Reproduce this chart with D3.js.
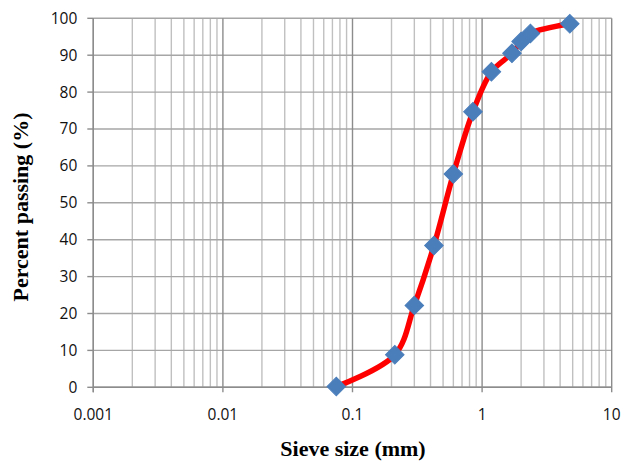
<!DOCTYPE html>
<html><head><meta charset="utf-8">
<script src="https://cdn.jsdelivr.net/npm/d3@7"></script>
<style>body{margin:0;background:#fff}svg{display:block}</style>
</head><body>
<svg id="c" width="623" height="463"></svg>
<script>
const sieveSizes = [0.075, 0.212, 0.3, 0.425, 0.6, 0.85, 1.18, 1.7, 2.0, 2.36, 4.75];
const percentPassing = [0.2, 8.8, 22.2, 38.4, 57.8, 74.7, 85.5, 90.5, 93.7, 95.9, 98.5];
const xTickLabels = ["0.001", "0.01", "0.1", "1", "10"];
const yTickLabels = [0, 10, 20, 30, 40, 50, 60, 70, 80, 90, 100];

const svg = d3.select("#c");
const L = 93.3, R = 611.7, T = 18.3, B = 387.3;
const x = d3.scaleLog().domain([0.001, 10]).range([L, R]);
const y = d3.scaleLinear().domain([0, 100]).range([B, T]);

// minor vertical grid
const minor = [];
for (let e = -3; e < 1; e++) for (let m = 2; m <= 9; m++) minor.push(m * Math.pow(10, e));
svg.append("g").selectAll("line").data(minor).join("line")
  .attr("x1", d => x(d)).attr("x2", d => x(d)).attr("y1", T).attr("y2", B)
  .attr("stroke", "#c0c0c0").attr("stroke-width", 1.4);
// horizontal grid
svg.append("g").selectAll("line").data(yTickLabels).join("line")
  .attr("x1", L).attr("x2", R).attr("y1", d => y(d)).attr("y2", d => y(d))
  .attr("stroke", "#a6a6a6").attr("stroke-width", 1.4);
// major vertical grid
svg.append("g").selectAll("line").data(xTickLabels.map(Number)).join("line")
  .attr("x1", d => x(d)).attr("x2", d => x(d)).attr("y1", T).attr("y2", B + 5)
  .attr("stroke", "#8c8c8c").attr("stroke-width", 1.4);
// axes lines
svg.append("line").attr("x1", L).attr("x2", L).attr("y1", T).attr("y2", B + 5).attr("stroke", "#8c8c8c").attr("stroke-width", 1.4);
svg.append("line").attr("x1", L).attr("x2", R).attr("y1", B).attr("y2", B).attr("stroke", "#8c8c8c").attr("stroke-width", 1.4);
// y ticks
svg.append("g").selectAll("line").data(yTickLabels).join("line")
  .attr("x1", L - 6).attr("x2", L).attr("y1", d => y(d)).attr("y2", d => y(d))
  .attr("stroke", "#8c8c8c").attr("stroke-width", 1.4);

const font = "'Open Sans', 'Liberation Sans', sans-serif";
svg.append("g").selectAll("text").data(yTickLabels).join("text")
  .attr("x", L - 16).attr("y", d => y(d)).attr("dy", "0.35em")
  .attr("text-anchor", "end").attr("font-family", font).attr("font-size", 15.5).attr("fill", "#111")
  .text(d => d);
svg.append("g").selectAll("text").data(xTickLabels).join("text")
  .attr("x", d => x(+d)).attr("y", 420)
  .attr("text-anchor", "middle").attr("font-family", font).attr("font-size", 15.5).attr("fill", "#111")
  .text(d => d);

const serif = "'Liberation Serif', 'Times New Roman', serif";
svg.append("text").attr("x", 353).attr("y", 456).attr("text-anchor", "middle")
  .attr("font-family", serif).attr("font-weight", "bold").attr("font-size", 22)
  .text("Sieve size (mm)");
svg.append("text").attr("transform", "translate(28,207) rotate(-90)").attr("text-anchor", "middle")
  .attr("font-family", serif).attr("font-weight", "bold").attr("font-size", 22)
  .text("Percent passing (%)");

const data = sieveSizes.map((s, i) => [s, percentPassing[i]]);
svg.append("path").datum(data)
  .attr("d", d3.line().x(d => x(d[0])).y(d => y(d[1])).curve(d3.curveCatmullRom.alpha(0.5)))
  .attr("fill", "none").attr("stroke", "#ff0000").attr("stroke-width", 5.5).attr("stroke-linejoin", "round");

svg.append("g").selectAll("path").data(data).join("path")
  .attr("d", d3.symbol(d3.symbolSquare, 172)())
  .attr("transform", d => `translate(${x(d[0])},${y(d[1])}) rotate(45)`)
  .attr("fill", "#4a7ebb").attr("stroke", "#4a7ebb").attr("stroke-width", 1);
</script>
</body></html>
